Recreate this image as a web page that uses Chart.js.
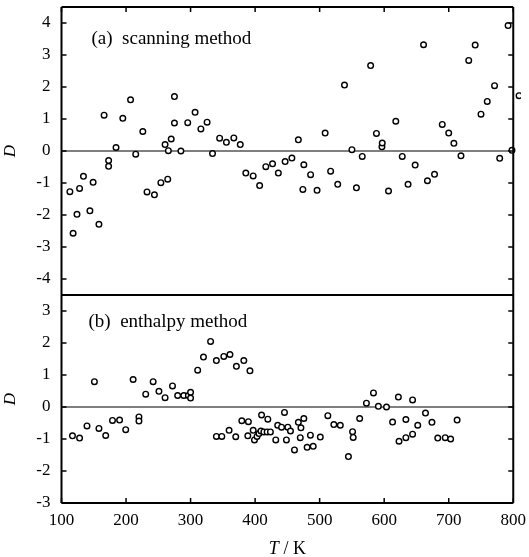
<!DOCTYPE html>
<html>
<head>
<meta charset="utf-8">
<script src="https://cdn.jsdelivr.net/npm/chart.js@4/dist/chart.umd.min.js"></script>
<style>
    body { margin: 0; background: #fff; }
    #wrap { width: 529px; height: 557px; position: relative; }
</style>
</head>
<body>
<div id="wrap"><canvas id="chart"></canvas></div>
<script>
// (a) scanning method
const scanT = [113, 118, 124, 128, 134, 144, 149, 158, 166, 173,
    173, 184.5, 195, 207, 215, 226, 232.5, 244, 254, 260.5,
    264.6, 265.6, 270, 275, 275, 285, 295.6, 307, 316, 325.6,
    334, 345, 355.5, 367, 377, 385.6, 397, 407, 416.6, 427,
    436, 446.5, 457, 467, 474, 475.5, 486, 496, 508.5, 517,
    528, 538.5, 550, 557, 566, 579, 588, 596.5, 597, 606.7,
    618, 628, 637, 648, 661, 667, 678, 690, 700, 708,
    719, 731, 741, 750, 759.7, 771, 779, 792, 798, 809];
const scanD = [-1.27, -2.57, -1.98, -1.17, -0.79, -1.87, -0.98, -2.29, 1.12, -0.30,
    -0.48, 0.11, 1.02, 1.60, -0.10, 0.61, -1.28, -1.37, -0.99, 0.20,
    -0.88, 0.01, 0.375, 1.70, 0.875, 0, 0.885, 1.21, 0.69, 0.90,
    -0.08, 0.40, 0.27, 0.41, 0.20, -0.69, -0.78, -1.08, -0.49, -0.40,
    -0.69, -0.33, -0.22, 0.35, -1.20, -0.43, -0.74, -1.23, 0.56, -0.63,
    -1.04, 2.06, 0.04, -1.15, -0.17, 2.67, 0.55, 0.13, 0.25, -1.25,
    0.93, -0.17, -1.04, -0.44, 3.32, -0.93, -0.73, 0.83, 0.56, 0.24,
    -0.15, 2.83, 3.31, 1.15, 1.55, 2.04, -0.23, 3.92, 0.02, 1.73];

// (b) enthalpy method
const enthT = [117, 128, 139.5, 151, 158, 168.5, 179, 190, 199.5, 211,
    220, 220, 230.5, 242, 251, 260.5, 272, 280, 289.5, 296.6,
    300, 300, 311, 320, 331, 340, 351.5, 361, 371, 382.5, 392,
    340, 348.4, 359.7, 370, 379.4, 389.6, 388.7, 397, 399, 403,
    406, 409, 413.5, 418.6, 423.7, 410, 419.7, 432, 435, 441,
    445.5, 448.5, 450.7, 454.8, 461, 467, 471, 475.5, 470, 480.6,
    490, 485.7, 501, 512.7, 522, 532, 551, 552, 544.6, 562,
    572.5, 583.4, 591, 603.6, 613, 622, 623, 633.6, 633.6, 644,
    644, 652, 664, 674, 683, 694.6, 703, 713];
const enthD = [-0.90, -0.97, -0.59, 0.79, -0.67, -0.89, -0.42, -0.41, -0.71, 0.86,
    -0.31, -0.44, 0.40, 0.79, 0.49, 0.29, 0.66, 0.36, 0.36, 0.36,
    0.46, 0.28, 1.15, 1.56, 2.05, 1.45, 1.58, 1.64, 1.27, 1.45, 1.13,
    -0.92, -0.92, -0.73, -0.93, -0.43, -0.46, -0.90, -0.73, -1.03, -0.92,
    -0.83, -0.75, -0.78, -0.78, -0.78, -0.25, -0.38, -1.03, -0.57, -0.63,
    -0.17, -1.03, -0.63, -0.75, -1.34, -0.48, -0.65, -0.36, -0.96, -1.26,
    -1.23, -0.88, -0.94, -0.27, -0.55, -0.57, -0.77, -0.95, -1.55, -0.36,
    0.12, 0.44, 0.02, 0, -0.47, 0.31, -1.07, -0.39, -0.96, -0.85,
    0.22, -0.57, -0.19, -0.48, -0.97, -0.96, -1.0, -0.41];

const xTicks = [100, 200, 300, 400, 500, 600, 700, 800];
const topTicks = [-4, -3, -2, -1, 0, 1, 2, 3, 4];
const bottomTicks = [-3, -2, -1, 0, 1, 2, 3];

const X_MIN = 100;
const X_FRAME = 800;   // right edge of the frame
const X_MAX = 812;     // a bit of room so the point past 800 is still drawn

const SERIF = '"Liberation Serif", "DejaVu Serif", serif';

function toPoints(xs, ys) {
    return xs.map((x, i) => ({ x: x, y: ys[i] }));
}

function line(ctx, x1, y1, x2, y2) {
    ctx.beginPath();
    ctx.moveTo(x1, y1);
    ctx.lineTo(x2, y2);
    ctx.stroke();
}

// zero lines, panel split, frame and inward ticks
const framePlugin = {
    id: 'frame',
    beforeDatasetsDraw(chart) {
        const { ctx, chartArea: a, scales } = chart;
        const right = scales.x.getPixelForValue(X_FRAME);
        ctx.save();
        ctx.strokeStyle = '#000';
        ctx.lineWidth = 1.2;
        line(ctx, a.left, scales.yTop.getPixelForValue(0), right, scales.yTop.getPixelForValue(0));
        line(ctx, a.left, scales.yBot.getPixelForValue(0), right, scales.yBot.getPixelForValue(0));
        ctx.restore();
    },
    afterDraw(chart) {
        const { ctx, chartArea: a, scales } = chart;
        const x = scales.x, yTop = scales.yTop, yBot = scales.yBot;
        const left = x.getPixelForValue(X_MIN);
        const right = x.getPixelForValue(X_FRAME);
        ctx.save();
        ctx.strokeStyle = '#000';
        ctx.lineWidth = 2;
        line(ctx, left, a.top, right, a.top);
        line(ctx, right, a.top, right, a.bottom);
        line(ctx, right, a.bottom, left, a.bottom);
        line(ctx, left, a.bottom, left, a.top);
        line(ctx, left, yTop.bottom, right, yTop.bottom);

        ctx.lineWidth = 1.5;
        xTicks.forEach(v => {
            const px = x.getPixelForValue(v);
            line(ctx, px, a.bottom, px, a.bottom - 5);
            line(ctx, px, a.top, px, a.top + 5);
        });
        [[yTop, topTicks], [yBot, bottomTicks]].forEach(([s, ticks]) => {
            ticks.forEach(v => {
                const py = s.getPixelForValue(v);
                line(ctx, left, py, left + 5, py);
                line(ctx, right, py, right - 5, py);
            });
        });

        // panel labels
        ctx.fillStyle = '#000';
        ctx.font = '19px ' + SERIF;
        ctx.textBaseline = 'middle';
        ctx.textAlign = 'left';
        ctx.fillText('(a)  scanning method', left + 30, 39);
        ctx.fillText('(b)  enthalpy method', left + 27, 322);

        // x title: italic T, upright unit
        const cx = (left + right) / 2;
        const ty = chart.height - 8;
        ctx.font = 'italic 18px ' + SERIF;
        const wT = ctx.measureText('T').width;
        ctx.font = '18px ' + SERIF;
        const wRest = ctx.measureText(' / K').width;
        const start = cx - (wT + wRest) / 2;
        ctx.font = 'italic 18px ' + SERIF;
        ctx.fillText('T', start, ty);
        ctx.font = '18px ' + SERIF;
        ctx.fillText(' / K', start + wT, ty);
        ctx.restore();
    }
};

function yAxis(min, max, ticks, weight) {
    return {
        type: 'linear',
        position: 'left',
        stack: 'panels',
        stackWeight: weight,
        min: min,
        max: max,
        border: { display: false },
        grid: { display: false, drawTicks: false },
        afterBuildTicks: axis => { axis.ticks = ticks.map(v => ({ value: v })); },
        afterFit: axis => { axis.width = 61.5; axis.paddingTop = 0; axis.paddingBottom = 0; },
        ticks: {
            color: '#000',
            padding: 11,
            autoSkip: false,
            font: { family: SERIF, size: 17 },
            callback: v => String(v)
        },
        title: {
            display: true,
            text: 'D',
            color: '#000',
            padding: { top: 0, bottom: 0 },
            font: { family: SERIF, size: 17, style: 'italic' }
        }
    };
}

function pointStyle() {
    return {
        showLine: false,
        pointRadius: 2.8,
        pointHoverRadius: 2.8,
        pointBorderWidth: 1.4,
        pointBorderColor: '#000',
        pointBackgroundColor: '#fff'
    };
}

document.addEventListener('DOMContentLoaded', () => {
    new Chart(document.getElementById('chart'), {
        type: 'scatter',
        data: {
            datasets: [
                Object.assign({ label: 'scanning method', yAxisID: 'yTop', data: toPoints(scanT, scanD) }, pointStyle()),
                Object.assign({ label: 'enthalpy method', yAxisID: 'yBot', data: toPoints(enthT, enthD) }, pointStyle())
            ]
        },
        options: {
            responsive: true,
            maintainAspectRatio: false,
            animation: false,
            layout: { padding: { top: 7, right: 8, left: 0, bottom: 0 } },
            plugins: {
                legend: { display: false },
                tooltip: { enabled: false }
            },
            scales: {
                x: {
                    type: 'linear',
                    min: X_MIN,
                    max: X_MAX,
                    border: { display: false },
                    grid: { display: false, drawTicks: false },
                    afterBuildTicks: axis => { axis.ticks = xTicks.map(v => ({ value: v })); },
                    afterFit: axis => { axis.height = 54; axis.paddingLeft = 0; axis.paddingRight = 0; },
                    ticks: {
                        color: '#000',
                        padding: 7,
                        maxRotation: 0,
                        autoSkip: false,
                        font: { family: SERIF, size: 17 },
                        callback: v => String(v)
                    }
                },
                // the stack is filled bottom-up, so the lower panel comes first
                yBot: yAxis(-3, 3.5, bottomTicks, 6.5),
                yTop: yAxis(-4.5, 4.5, topTicks, 9)
            }
        },
        plugins: [framePlugin]
    });
});
</script>
</body>
</html>
